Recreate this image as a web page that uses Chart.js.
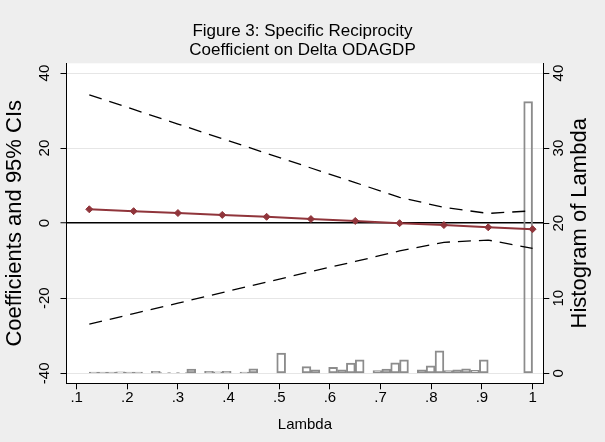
<!DOCTYPE html>
<html>
<head>
<meta charset="utf-8">
<script src="https://cdn.jsdelivr.net/npm/chart.js@4.4.0/dist/chart.umd.min.js"></script>
<style>
  html, body { margin: 0; padding: 0; background: #eeeeee; }
  #myCanvas { display: block; }
</style>
</head>
<body>
<canvas id="myCanvas" width="605" height="442"></canvas>
<script>
// values
var lambdaVals = [0.125, 0.2125, 0.3, 0.3875, 0.475, 0.5625, 0.65, 0.7375, 0.825, 0.9125, 1.0];
var coefVals  = [3.7, 3.2, 2.7, 2.2, 1.7, 1.1, 0.6, 0.0, -0.5, -1.1, -1.6];
var upperVals = [34.2, 30.3, 26.4, 22.5, 18.6, 14.7, 10.8, 6.9, 4.2, 2.6, 3.3];
var lowerVals = [-26.9, -24.1, -21.3, -18.5, -15.7, -12.9, -10.2, -7.4, -5.1, -4.5, -6.7];

// histogram of lambda (bin centres, percent)
var histBins = [0.13375, 0.15125, 0.16875, 0.18625, 0.20375, 0.22125, 0.25625, 0.27375, 0.29125, 0.30875,
                0.32625, 0.36125, 0.37875, 0.39625, 0.43125, 0.44875, 0.50375, 0.55375, 0.57125, 0.60625,
                0.62375, 0.64125, 0.65875, 0.69375, 0.71125, 0.72875, 0.74625, 0.78125, 0.79875, 0.81625,
                0.83375, 0.85125, 0.86875, 0.88625, 0.90375, 0.99125];
var histPct  = [0.15, 0.15, 0.15, 0.2, 0.15, 0.15, 0.25, 0.1, 0.1, 0.1,
                0.55, 0.25, 0.2, 0.25, 0.15, 0.6, 2.7, 0.9, 0.45, 0.8,
                0.45, 1.35, 1.8, 0.35, 0.55, 1.4, 1.8, 0.45, 1.0, 3.0,
                0.35, 0.45, 0.6, 0.4, 1.8, 36.2];

var xTicks = [0.1, 0.2, 0.3, 0.4, 0.5, 0.6, 0.7, 0.8, 0.9, 1];
var xTickLabels = ['.1', '.2', '.3', '.4', '.5', '.6', '.7', '.8', '.9', '1'];
var leftTicks = [-40, -20, 0, 20, 40];
var rightTicks = [0, 10, 20, 30, 40];

function pairs(xs, ys) {
  var out = [];
  for (var i in xs) {
    out.push({x: xs[i], y: ys[i]});
  }
  return out;
}

Chart.defaults.font.family = '"Liberation Sans", Arial, sans-serif';
Chart.defaults.color = '#000';

var bgPlugin = {
  id: 'bg',
  beforeDraw: function(chart) {
    var c = chart.ctx, a = chart.chartArea;
    c.save();
    c.fillStyle = '#eeeeee';
    c.fillRect(0, 0, chart.width, chart.height);
    c.fillStyle = '#ffffff';
    c.fillRect(a.left, a.top, a.right - a.left, a.bottom - a.top);
    c.restore();
  },
  afterDraw: function(chart) {
    // right axis title, read bottom to top like the left one
    var c = chart.ctx, a = chart.chartArea;
    c.save();
    c.translate(579.5, (a.top + a.bottom) / 2);
    c.rotate(-Math.PI / 2);
    c.font = '22px "Liberation Sans", Arial, sans-serif';
    c.fillStyle = '#000';
    c.textAlign = 'center';
    c.textBaseline = 'middle';
    c.fillText('Histogram of Lambda', 0, 0);
    c.restore();
  }
};

var chartdata = {
  datasets: [
    {
      type: 'line',
      data: pairs(lambdaVals, coefVals),
      borderColor: 'rgb(144,53,59)',
      backgroundColor: 'rgb(144,53,59)',
      borderWidth: 2,
      pointStyle: 'rectRot',
      pointRadius: 3.5,
      pointBorderWidth: 1,
      yAxisID: 'y',
      order: 0
    },
    {
      type: 'line',
      data: pairs(lambdaVals, upperVals),
      borderColor: '#000',
      borderWidth: 1.3,
      borderDash: [13, 8],
      pointRadius: 0,
      yAxisID: 'y',
      order: 1
    },
    {
      type: 'line',
      data: pairs(lambdaVals, lowerVals),
      borderColor: '#000',
      borderWidth: 1.3,
      borderDash: [13, 8],
      pointRadius: 0,
      yAxisID: 'y',
      order: 1
    },
    {
      type: 'bar',
      data: pairs(histBins, histPct),
      backgroundColor: 'rgba(255,255,255,0)',
      borderColor: '#8c8c8c',
      borderWidth: 1.3,
      borderSkipped: false,
      barPercentage: 1,
      categoryPercentage: 1,
      yAxisID: 'y2',
      order: 2
    }
  ]
};

var ctx = document.getElementById('myCanvas');
var chart = new Chart(ctx, {
  type: 'line',
  data: chartdata,
  plugins: [bgPlugin],
  options: {
    responsive: false,
    animation: false,
    layout: { padding: 0 },
    plugins: {
      legend: { display: false },
      tooltip: { enabled: false },
      title: {
        display: true,
        text: ['Figure 3: Specific Reciprocity', 'Coefficient on Delta ODAGDP'],
        font: { size: 17, weight: 'normal', lineHeight: 1.12 },
        color: '#000',
        padding: { top: 21.5, bottom: 3.7 }
      }
    },
    scales: {
      x: {
        type: 'linear',
        offset: false,
        min: 0.08,
        max: 1.0212,
        afterBuildTicks: function(s) { s.ticks = xTicks.map(function(v) { return {value: v}; }); },
        afterFit: function(s) { s.height = 58.7; },
        ticks: {
          font: { size: 15 },
          padding: 0,
          maxRotation: 0,
          callback: function(v, i) { return xTickLabels[i]; }
        },
        grid: { offset: false, drawOnChartArea: false, tickLength: 6, tickColor: '#000', tickWidth: 1 },
        border: { color: '#000', width: 1 },
        title: { display: true, text: 'Lambda', font: { size: 15 }, padding: { top: 0, bottom: 8 } }
      },
      y: {
        position: 'left',
        min: -42.66,
        max: 42.6,
        afterBuildTicks: function(s) { s.ticks = leftTicks.map(function(v) { return {value: v}; }); },
        afterFit: function(s) { s.width = 66.5; },
        ticks: {
          font: { size: 15 },
          minRotation: 90,
          maxRotation: 90,
          crossAlign: 'center',
          padding: 4.7
        },
        grid: {
          color: function(c) { return c.tick && c.tick.value === 0 ? '#000' : '#e6e6e6'; },
          lineWidth: function(c) { return c.tick && c.tick.value === 0 ? 1.5 : 1; },
          tickLength: 6,
          tickColor: '#000',
          tickWidth: 1
        },
        border: { color: '#000', width: 1 },
        title: { display: true, text: 'Coefficients and 95% CIs', font: { size: 22 }, padding: { top: 2, bottom: 0 } }
      },
      y2: {
        position: 'right',
        min: -1.33,
        max: 41.3,
        afterBuildTicks: function(s) { s.ticks = rightTicks.map(function(v) { return {value: v}; }); },
        afterFit: function(s) { s.width = 61.7; },
        ticks: {
          font: { size: 15 },
          minRotation: 90,
          maxRotation: 90,
          crossAlign: 'center',
          padding: 1.3
        },
        grid: { drawOnChartArea: false, tickLength: 6, tickColor: '#000', tickWidth: 1 },
        border: { color: '#000', width: 1 }
      }
    }
  }
});
</script>
</body>
</html>
